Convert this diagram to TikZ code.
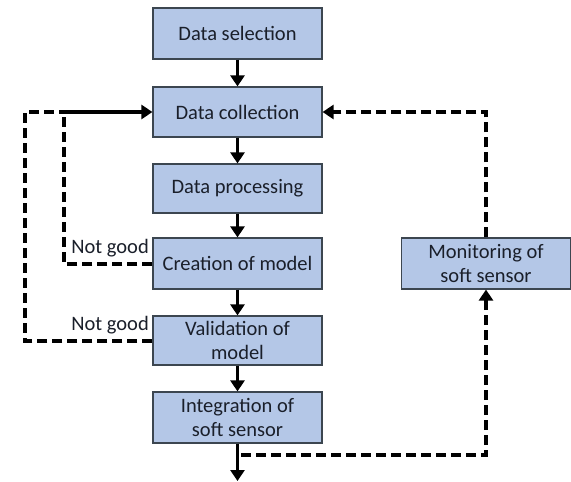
\documentclass[tikz,border=0pt]{standalone}
\usepackage{fontspec}
\setmainfont{Carlito}
\usetikzlibrary{arrows.meta}
\definecolor{boxfill}{HTML}{B4C7E7}
\definecolor{boxline}{HTML}{3C4650}
\definecolor{txt}{HTML}{1A1F2A}
\tikzset{
  stepbox/.style={draw=boxline, line width=1.2pt, fill=boxfill, minimum width=169pt, minimum height=51pt, inner sep=0pt, align=center, text=txt, font=\fontsize{20.5}{23.5}\selectfont},
  flow/.style={line width=3.6pt, -{Triangle[width=14pt,length=11pt]}},
  loopline/.style={line width=4pt, dash pattern=on 10pt off 5pt},
  loopflow/.style={loopline, -{Triangle[width=14pt,length=11pt]}},
  lbl/.style={font=\fontsize{20.5}{23.5}\selectfont, text=txt, inner sep=0pt}
}
\begin{document}
\begin{tikzpicture}[x=1pt,y=-1pt]
\useasboundingbox (0,0) rectangle (571,482);
\node[stepbox] (sel) at (237.5,33.5) {Data selection};
\node[stepbox, minimum height=50pt] (col) at (237.5,112) {Data collection};
\node[stepbox, minimum height=49pt] (pro) at (237.5,188.5) {Data processing};
\node[stepbox] (cre) at (237.5,263.5) {Creation of model};
\node[stepbox, minimum height=49pt] (val) at (237.5,340.5) {Validation of\\model};
\node[stepbox] (int) at (237.5,417.5) {Integration of\\soft sensor};
\node[stepbox] (mon) at (486,263.5) {Monitoring of\\soft sensor};
\coordinate (out) at (237.5,481);
\coordinate (tap) at (241,455);
\coordinate (join) at (64,112);
\coordinate (outer) at (25,112);
\node[lbl, anchor=base east] (ng1) at (149,253) {Not good};
\node[lbl, anchor=base east] (ng2) at (149,330) {Not good};
\draw[flow] (sel) -- (col);
\draw[flow] (col) -- (pro);
\draw[flow] (pro) -- (cre);
\draw[flow] (cre) -- (val);
\draw[flow] (val) -- (int);
\draw[flow] (int) -- (out);
\draw[loopline] (cre.west) -| (join);
\draw[loopline] (val.west) -| (outer) -- (join);
\draw[flow] (join) -- (col.west);
\draw[loopflow] (mon.north) |- (col.east);
\draw[loopflow] (tap) -| (mon.south);
\end{tikzpicture}
\end{document}
